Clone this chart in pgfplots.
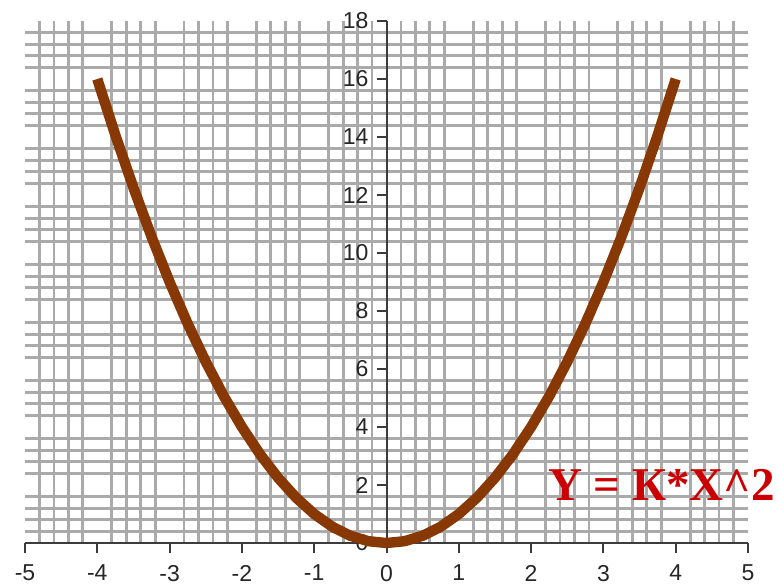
\documentclass[border=0pt]{standalone}
\usepackage{pgfplots}
\pgfplotsset{compat=1.18}
\usepackage{fontspec}
\setmainfont{Liberation Sans}
\newfontfamily\serifbold{Liberation Serif}
\definecolor{curvebrown}{RGB}{136,56,4}
\definecolor{gridgray}{RGB}{170,170,170}
\definecolor{labred}{RGB}{204,0,0}
\definecolor{axisgray}{RGB}{60,60,60}
\begin{document}
\begin{tikzpicture}
\begin{axis}[
  scale only axis,
  width=361.5pt, height=261pt,
  xmin=-5, xmax=5, ymin=0, ymax=18,
  axis x line*=bottom,
  axis y line*=center,
  xtick={-5,-4,...,5},
  ytick={0,2,...,18},
  minor tick num=4,
  minor tick length=0pt,
  major tick length=5pt,
  tick align=outside,
  major grid style={draw=none},
  minor grid style={gridgray, line width=1.4pt},
  xminorgrids=true, yminorgrids=true,
  xmajorgrids=false, ymajorgrids=false,
  hide obscured x ticks=false,
  hide obscured y ticks=false,
  axis line style={axisgray, line width=1pt},
  every tick/.style={axisgray, line width=1pt},
  tick label style={font=\fontsize{11.5}{13}\selectfont, text=black!85},
  xticklabel style={yshift=-2.5pt},
  yticklabel style={xshift=-0.5pt},
  /pgf/number format/assume math mode=true,
  clip=false,
]
\addplot[curvebrown, line width=5.2pt, line join=round, line cap=butt] coordinates {
(-4,16) (-3.75,14.0625) (-3.5,12.25) (-3.25,10.5625) (-3,9) (-2.75,7.5625)
(-2.5,6.25) (-2.25,5.0625) (-2,4) (-1.75,3.0625) (-1.5,2.25) (-1.25,1.5625)
(-1,1) (-0.75,0.5625) (-0.5,0.25) (-0.25,0.0625) (0,0) (0.25,0.0625)
(0.5,0.25) (0.75,0.5625) (1,1) (1.25,1.5625) (1.5,2.25) (1.75,3.0625)
(2,4) (2.25,5.0625) (2.5,6.25) (2.75,7.5625) (3,9) (3.25,10.5625)
(3.5,12.25) (3.75,14.0625) (4,16)
};
\node[anchor=base west, inner sep=0pt, text=labred, font=\serifbold\bfseries\fontsize{23.5}{28}\selectfont] at (axis cs:2.23,1.48) {Y = К*X\^{}2};
\coordinate (bl) at (rel axis cs:0,0);
\coordinate (tr) at (rel axis cs:1,1);
\end{axis}
\pgfresetboundingbox
\path (bl) ++(-12.5pt,-21pt) coordinate (BB1);
\path (tr) ++(14.5pt,10.5pt) coordinate (BB2);
\useasboundingbox (BB1) rectangle (BB2);
\end{tikzpicture}
\end{document}
